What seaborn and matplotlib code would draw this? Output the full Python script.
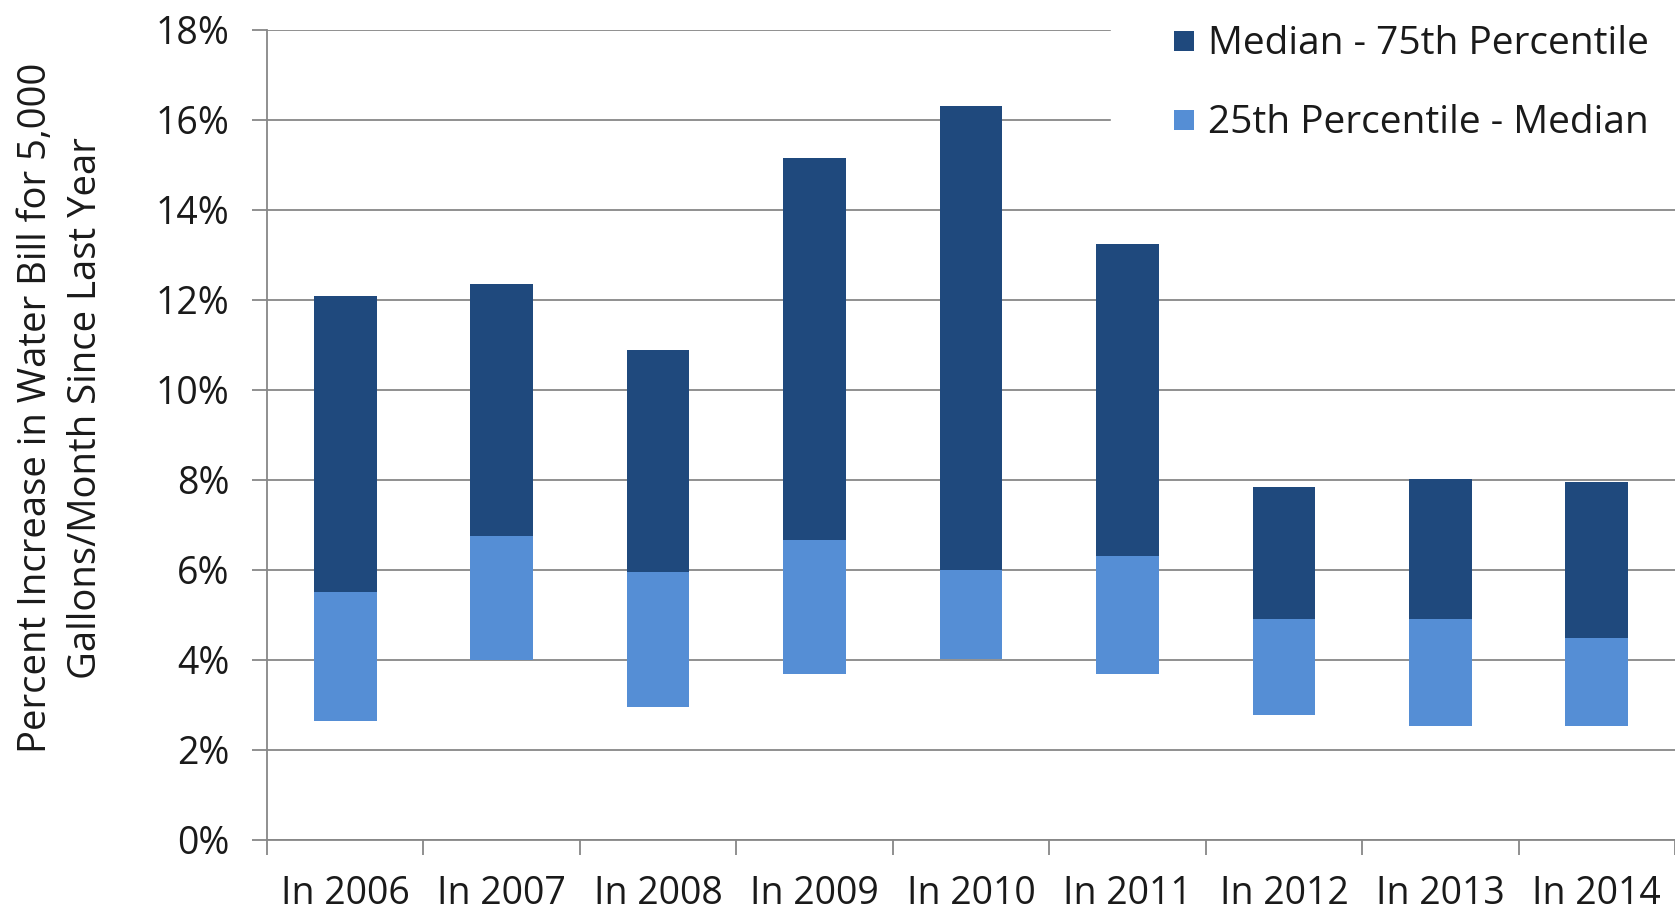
import matplotlib
matplotlib.use('Agg')
import matplotlib.pyplot as plt
import pandas as pd
import seaborn as sns
from matplotlib.lines import Line2D
from matplotlib.ticker import FixedLocator, FuncFormatter

YEARS = ['In 2006', 'In 2007', 'In 2008', 'In 2009', 'In 2010',
         'In 2011', 'In 2012', 'In 2013', 'In 2014']
P25 = [2.65, 4.01, 2.96, 3.69, 4.03, 3.69, 2.78, 2.53, 2.53]
MEDIAN = [5.52, 6.75, 5.95, 6.67, 6.01, 6.31, 4.91, 4.91, 4.49]
P75 = [12.09, 12.35, 10.89, 15.16, 16.31, 13.25, 7.84, 8.02, 7.95]
Y_TICKS = [0, 2, 4, 6, 8, 10, 12, 14, 16, 18]

DARK = '#1F497D'
LIGHT = '#558ED5'
GRID = '#878787'
TEXT = '#1a1a1a'
FONT = 'Open Sans'


def floating_bars(ax, df, low, high, color):
    # seaborn draws bars from 0, then each one is lifted to start at its lower value
    df = df.assign(span=df[high] - df[low])
    n_before = len(ax.patches)
    sns.barplot(data=df, x='year', y='span', color=color, saturation=1,
                width=0.4, errorbar=None, ax=ax, zorder=3)
    for patch, bottom in zip(ax.patches[n_before:], df[low]):
        patch.set_y(bottom)
        patch.set_linewidth(0)


def main():
    sns.set_theme(style='white')
    plt.rcParams['font.family'] = [FONT, 'DejaVu Sans']

    data = pd.DataFrame({'year': YEARS, 'p25': P25, 'median': MEDIAN, 'p75': P75})

    fig = plt.figure(figsize=(16.75, 9.14), dpi=100)
    ax = fig.add_axes([267 / 1675, 1 - 840 / 914, 1 - 267 / 1675, 810 / 914])

    floating_bars(ax, data, 'median', 'p75', DARK)
    floating_bars(ax, data, 'p25', 'median', LIGHT)

    ax.set_ylim(0, 18)
    ax.set_xlim(-0.5, len(YEARS) - 0.5)
    ax.yaxis.set_major_locator(FixedLocator(Y_TICKS))
    ax.yaxis.set_major_formatter(FuncFormatter(lambda v, _: '{:.0f}%'.format(v)))
    ax.yaxis.grid(True, color=GRID, linewidth=1.3, zorder=0)
    ax.set_axisbelow(True)

    # category boundaries get the tick marks, centres get the labels
    ax.xaxis.set_minor_locator(FixedLocator([i - 0.5 for i in range(len(YEARS) + 1)]))
    ax.tick_params(axis='x', which='major', length=0, pad=25, labelsize=27,
                   labelcolor=TEXT)
    ax.tick_params(axis='x', which='minor', length=11, width=1.3, color=GRID,
                   bottom=True, direction='out')
    ax.tick_params(axis='y', which='major', length=11, width=1.3, color=GRID,
                   left=True, direction='out', pad=16, labelsize=27,
                   labelcolor=TEXT)

    for side in ['top', 'right']:
        ax.spines[side].set_visible(False)
    for side in ['left', 'bottom']:
        ax.spines[side].set_color(GRID)
        ax.spines[side].set_linewidth(1.3)

    ax.set_xlabel('')
    ax.set_ylabel('Percent Increase in Water Bill for 5,000\nGallons/Month Since Last Year',
                  fontsize=27.5, color=TEXT, linespacing=1.4)
    ax.yaxis.set_label_coords(-0.115, 0.533)

    handles = [
        Line2D([], [], linestyle='none', marker='s', markersize=14,
               markerfacecolor=DARK, markeredgewidth=0),
        Line2D([], [], linestyle='none', marker='s', markersize=14,
               markerfacecolor=LIGHT, markeredgewidth=0),
    ]
    leg = fig.legend(handles, ['Median - 75th Percentile', '25th Percentile - Median'],
                     loc='upper left', bbox_to_anchor=(1111 / 1675, 1.0),
                     borderaxespad=0, borderpad=0.65, fontsize=28, numpoints=1,
                     handlelength=2.47, handletextpad=-0.62, labelspacing=1.05,
                     frameon=True, fancybox=False, framealpha=1,
                     facecolor='white', edgecolor='white')
    for text in leg.get_texts():
        text.set_color(TEXT)

    fig.savefig('out.png', dpi=100, facecolor='white')


if __name__ == '__main__':
    main()
